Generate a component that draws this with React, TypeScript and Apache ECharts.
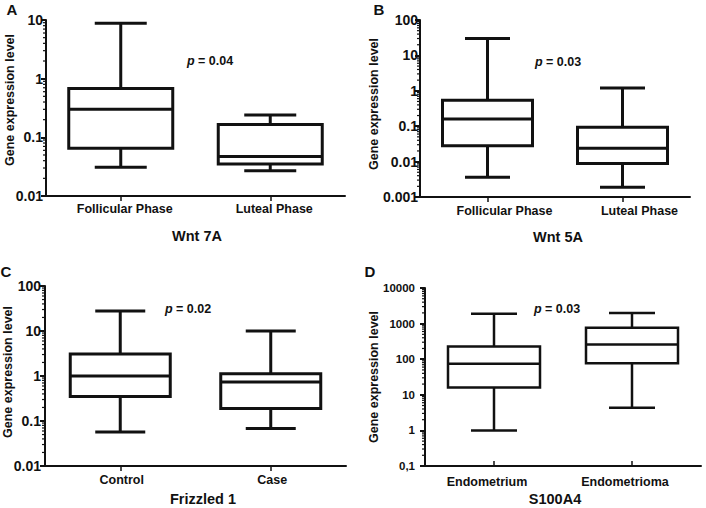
import React, { useEffect, useRef } from "react";
import * as echarts from "echarts";

const FONT = "'Liberation Sans', Arial, Helvetica, sans-serif";
const INK = "#111";

// ---- data (min, Q1, median, Q3, max) ----
const catsA = ["Follicular Phase", "Luteal Phase"];
const boxA = [
  [0.031, 0.065, 0.3, 0.68, 8.8],
  [0.027, 0.035, 0.047, 0.165, 0.24],
];
const rangeA = [0.01, 10];

const catsB = ["Follicular Phase", "Luteal Phase"];
const boxB = [
  [0.0036, 0.028, 0.16, 0.54, 30],
  [0.0019, 0.0088, 0.024, 0.093, 1.2],
];
const rangeB = [0.001, 100];

const catsC = ["Control", "Case"];
const boxC = [
  [0.057, 0.35, 1.0, 3.1, 28],
  [0.068, 0.19, 0.74, 1.12, 10],
];
const rangeC = [0.01, 100];

const catsD = ["Endometrium", "Endometrioma"];
const boxD = [
  [1.0, 16, 74, 226, 1900],
  [4.3, 77, 257, 760, 2000],
];
const rangeD = [0.1, 10000];

const letters = ["A", "B", "C", "D"];
const titles = ["Wnt 7A", "Wnt 5A", "Frizzled 1", "S100A4"];
const pValues = ["0.04", "0.03", "0.02", "0.03"];
const yName = "Gene expression level";
const minorMultipliers = [2, 3, 4, 5, 6, 7, 8, 9];

type Panel = {
  grid: { left: number; top: number; width: number; height: number };
  cats: string[];
  boxes: number[][];
  range: number[];
  boxW: number;
  lw: number;
  xLabelMargin: number;
  yLabelMargin: number;
  yLabelSize: number;
  tickInside: boolean;
  comma: boolean;
  labelPad: number[];
  letterPos: number[];
  titlePos: number[];
  pPos: number[];
  yNamePos: number[];
};

const panels: Panel[] = [
  {
    grid: { left: 46, top: 20, width: 299, height: 176 },
    cats: catsA, boxes: boxA, range: rangeA, boxW: 104, lw: 3,
    xLabelMargin: 6, yLabelMargin: 3, yLabelSize: 14, tickInside: false, comma: false,
    labelPad: [0, 0, 0, 8],
    letterPos: [12, 9], titlePos: [197, 236], pPos: [210, 61], yNamePos: [10, 100],
  },
  {
    grid: { left: 420, top: 20, width: 270, height: 177 },
    cats: catsB, boxes: boxB, range: rangeB, boxW: 90, lw: 3,
    xLabelMargin: 7, yLabelMargin: 2, yLabelSize: 14, tickInside: false, comma: false,
    labelPad: [0, 0, 0, 34],
    letterPos: [379, 9], titlePos: [558, 237], pPos: [558, 62], yNamePos: [374, 104],
  },
  {
    grid: { left: 45, top: 286, width: 301, height: 180 },
    cats: catsC, boxes: boxC, range: rangeC, boxW: 100, lw: 3,
    xLabelMargin: 7, yLabelMargin: 4, yLabelSize: 14, tickInside: false, comma: false,
    labelPad: [0, 0, 0, 3],
    letterPos: [6, 271], titlePos: [203, 499], pPos: [188, 309], yNamePos: [8, 372],
  },
  {
    grid: { left: 425, top: 288, width: 276, height: 178 },
    cats: catsD, boxes: boxD, range: rangeD, boxW: 92, lw: 2.5,
    xLabelMargin: 9, yLabelMargin: 10, yLabelSize: 11.5, tickInside: true, comma: true,
    labelPad: [0, 14, 0, 0],
    letterPos: [370, 271], titlePos: [555, 499], pPos: [557, 309], yNamePos: [374, 377],
  },
];

function minorTickData(range: number[]) {
  const out: number[][] = [];
  const e0 = Math.round(Math.log10(range[0]));
  const e1 = Math.round(Math.log10(range[1]));
  for (let e = e0; e < e1; e++) {
    for (const m of minorMultipliers) out.push([0, m * Math.pow(10, e)]);
  }
  return out;
}

function fmt(v: number, comma: boolean) {
  const s = String(Number(Number(v).toPrecision(6)));
  return comma ? s.replace(".", ",") : s;
}

function buildOption() {
  const grid = panels.map((p) => ({ ...p.grid, containLabel: false, outerBoundsMode: "none" }));
  const xAxis = panels.map((p, i) => ({
    gridIndex: i,
    type: "category",
    data: p.cats,
    axisLine: { show: true, lineStyle: { color: INK, width: 2 } },
    axisTick: { show: true, alignWithLabel: true, inside: p.tickInside, length: 5, lineStyle: { color: INK, width: 1.5 } },
    splitLine: { show: false },
    axisLabel: {
      margin: p.xLabelMargin,
      formatter: (v: string) => `{a|${v}}`,
      rich: {
        a: { padding: p.labelPad, fontFamily: FONT, fontWeight: "bold", fontSize: 12.5, color: INK },
      },
    },
  }));
  const yAxis = panels.map((p, i) => ({
    gridIndex: i,
    type: "log",
    logBase: 10,
    min: p.range[0],
    max: p.range[1],
    axisLine: { show: true, lineStyle: { color: INK, width: 2 } },
    axisTick: { show: true, length: 5, lineStyle: { color: INK, width: 2 } },
    splitLine: { show: false },
    axisLabel: {
      margin: p.yLabelMargin,
      fontFamily: FONT,
      fontWeight: "bold",
      fontSize: p.yLabelSize,
      color: INK,
      formatter: (v: number) => fmt(v, p.comma),
    },
  }));
  const series: any[] = [];
  panels.forEach((p, i) => {
    series.push({
      type: "custom",
      xAxisIndex: i,
      yAxisIndex: i,
      clip: false,
      encode: { x: 0, y: 1 },
      data: minorTickData(p.range),
      renderItem: (params: any, api: any) => {
        const pt = api.coord([0, api.value(1)]);
        const x0 = params.coordSys.x;
        return {
          type: "line",
          shape: { x1: x0 - 3, y1: pt[1], x2: x0, y2: pt[1] },
          style: { stroke: INK, lineWidth: 1.2 },
        };
      },
    });
    series.push({
      type: "custom",
      xAxisIndex: i,
      yAxisIndex: i,
      clip: false,
      encode: { x: 0, y: [1, 2, 3, 4, 5] },
      data: p.boxes.map((b, k) => [k, ...b]),
      renderItem: (_params: any, api: any) => {
        const idx = api.value(0);
        const pts = [1, 2, 3, 4, 5].map((d) => api.coord([idx, api.value(d)]));
        const cx = pts[0][0];
        const [yMin, yQ1, yMed, yQ3, yMax] = pts.map((q: number[]) => q[1]);
        const hw = p.boxW / 2;
        const cw = p.boxW / 4;
        const st = { stroke: INK, lineWidth: p.lw, fill: "none" };
        return {
          type: "group",
          children: [
            { type: "line", shape: { x1: cx, y1: yMax, x2: cx, y2: yQ3 }, style: st },
            { type: "line", shape: { x1: cx, y1: yQ1, x2: cx, y2: yMin }, style: st },
            { type: "line", shape: { x1: cx - cw, y1: yMax, x2: cx + cw, y2: yMax }, style: st },
            { type: "line", shape: { x1: cx - cw, y1: yMin, x2: cx + cw, y2: yMin }, style: st },
            { type: "rect", shape: { x: cx - hw, y: yQ3, width: p.boxW, height: yQ1 - yQ3 }, style: { ...st, fill: "#fff" } },
            { type: "line", shape: { x1: cx - hw, y1: yMed, x2: cx + hw, y2: yMed }, style: st },
          ],
        };
      },
    });
  });

  const graphic: any[] = [];
  panels.forEach((p, i) => {
    graphic.push({
      type: "text",
      x: p.letterPos[0],
      y: p.letterPos[1],
      style: { text: letters[i], fontFamily: FONT, fontWeight: "bold", fontSize: 15, fill: INK, align: "center", verticalAlign: "middle" },
    });
    graphic.push({
      type: "text",
      x: p.titlePos[0],
      y: p.titlePos[1],
      style: { text: titles[i], fontFamily: FONT, fontWeight: "bold", fontSize: 14.5, fill: INK, align: "center", verticalAlign: "middle" },
    });
    graphic.push({
      type: "text",
      x: p.pPos[0],
      y: p.pPos[1],
      style: {
        text: `{i|p} = ${pValues[i]}`,
        fontFamily: FONT,
        fontWeight: "bold",
        fontSize: 12.5,
        fill: INK,
        align: "center",
        verticalAlign: "middle",
        rich: { i: { fontStyle: "italic", fontWeight: "bold", fontFamily: FONT, fontSize: 12.5, fill: INK } },
      },
    });
    graphic.push({
      type: "text",
      x: p.yNamePos[0],
      y: p.yNamePos[1],
      rotation: Math.PI / 2,
      style: { text: yName, fontFamily: FONT, fontWeight: "bold", fontSize: 12.5, fill: INK, align: "center", verticalAlign: "middle" },
    });
  });

  return {
    animation: false,
    backgroundColor: "#fff",
    textStyle: { fontFamily: FONT },
    grid,
    xAxis,
    yAxis,
    series,
    graphic,
  };
}

export default function App() {
  const ref = useRef<HTMLDivElement>(null);
  useEffect(() => {
    if (!ref.current) return;
    const chart = echarts.init(ref.current, undefined, { renderer: "svg" });
    chart.setOption(buildOption() as any);
    return () => chart.dispose();
  }, []);
  return (
    <div
      ref={ref}
      style={{ position: "absolute", left: 0, top: 0, width: 706, height: 508, background: "#fff" }}
    />
  );
}
